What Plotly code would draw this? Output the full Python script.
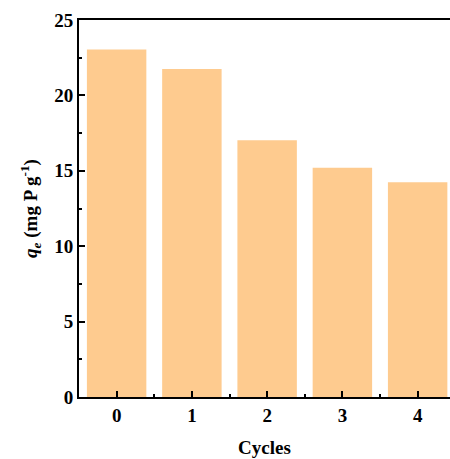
import plotly.graph_objects as go

cycles = ["0", "1", "2", "3", "4"]
qe = [23.05, 21.75, 17.03, 15.2, 14.24]
y_ticks = [0, 5, 10, 15, 20, 25]

font_family = "Liberation Serif"

fig = go.Figure(
    go.Bar(
        x=list(range(len(cycles))),
        y=qe,
        marker=dict(color="#FECB8F", line=dict(width=0)),
        width=0.79,
    )
)

fig.update_layout(
    width=450,
    height=459,
    margin=dict(l=79, r=0, t=20, b=62),
    paper_bgcolor="white",
    plot_bgcolor="white",
    showlegend=False,
    font=dict(family=font_family, size=18, color="black"),
)

fig.update_xaxes(
    range=[-0.5, 4.43],
    tickmode="array",
    tickvals=list(range(len(cycles))),
    ticktext=cycles,
    ticks="inside",
    ticklen=6,
    tickwidth=1.5,
    tickcolor="black",
    showline=True,
    linewidth=2,
    linecolor="black",
    mirror=True,
    showgrid=False,
    zeroline=False,
    tickfont=dict(family=font_family, size=19, weight="bold"),
    title=dict(text="<b>Cycles</b>", font=dict(family=font_family, size=19), standoff=16),
    minor=dict(
        tickmode="array",
        tickvals=[i + 0.5 for i in range(len(cycles))],
        ticks="inside",
        ticklen=3,
        tickwidth=1.5,
        tickcolor="black",
        showgrid=False,
    ),
)

fig.update_yaxes(
    range=[0, 25],
    tickmode="array",
    tickvals=y_ticks,
    ticks="inside",
    ticklen=6,
    tickwidth=1.5,
    tickcolor="black",
    showline=True,
    linewidth=2,
    linecolor="black",
    mirror=False,
    showgrid=False,
    zeroline=False,
    tickfont=dict(family=font_family, size=19, weight="bold"),
    title=dict(
        text="<b><i>q</i><sub><i>e</i></sub> (mg P g<sup>-1</sup>)</b>",
        font=dict(family=font_family, size=19),
        standoff=12,
    ),
    minor=dict(
        tickmode="array",
        tickvals=[2.5, 7.5, 12.5, 17.5, 22.5],
        ticks="inside",
        ticklen=3,
        tickwidth=1.5,
        tickcolor="black",
        showgrid=False,
    ),
)

fig.write_html("out.html")
